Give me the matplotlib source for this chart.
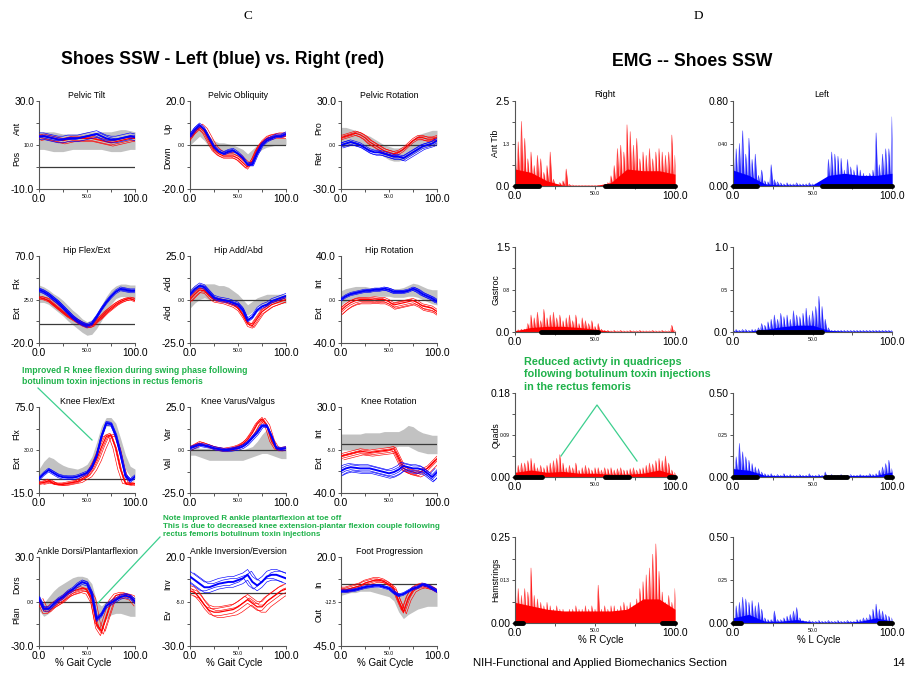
import numpy as np
import matplotlib
matplotlib.use("Agg")
import matplotlib.pyplot as plt
from matplotlib.lines import Line2D

W, H = 909, 673
plt.rcParams['font.family'] = ['Liberation Sans', 'DejaVu Sans']

RED, BLUE, BAND = '#ff0000', '#0000ff', '#c2c2c2'
GREEN_TXT, GREEN_LINE = '#1fb24a', '#3ccf8e'

# gait cycle samples (% of cycle)
pct = np.arange(0, 101, 5)

# ---------------- kinematics (deg), sampled every 5 % ----------------
tilt_lo = [8, 8, 7.5, 7, 7, 7, 7.5, 8, 8, 8, 8, 8, 8, 8, 7.5, 7, 7, 7, 7.5, 8, 8]
tilt_hi = [16, 16, 16, 16, 15.5, 15, 15, 15, 15, 15.5, 16, 16, 16, 16, 16, 16, 16.5, 17, 17, 16.5, 16]
tilt_left = [14, 14, 13.5, 13, 12.5, 12.5, 13, 13, 13, 13.5, 14, 14.5, 15, 14, 13, 12.5, 12.5, 13, 13.5, 14, 13.5]
tilt_right = [13.5, 14, 13.5, 13, 12.5, 12, 12.5, 13, 13, 13, 13, 13, 12.5, 12, 11.5, 11, 11.5, 12, 12.5, 13, 13]

obl_lo = [0, 2, 4, 2, -1, -3, -4, -4, -4, -4, -5, -6, -8, -6, -4, -2, -1, -0.5, 0, 0, 0]
obl_hi = [4, 7, 8, 7, 4, 2, 1, 1, 0.5, 0, -1, -2, -4, -2, 0, 2, 3, 3, 3, 3, 3]
obl_left = [4, 7, 9, 7, 3, -1, -3, -4, -3, -2.5, -4, -6, -9, -9, -4, 0, 2, 3, 4, 4, 5]
obl_right = [3, 6, 8, 6, 2, -2, -4, -5, -5, -5, -6, -8, -10, -7, -2, 1, 3, 3.5, 4, 4, 4]

prot_lo = [-1, -1, 0, 0, -1, -2, -3, -4, -6, -8, -10, -11, -11, -10, -8, -6, -4, -2, -1, 0, 0]
prot_hi = [12, 12, 11, 10, 9, 7, 6, 4, 2, 0, -1, -2, -2, -1, 1, 4, 7, 8, 9, 10, 10]
prot_left = [0, 1, 2, 1, 0, -2, -4, -5, -5, -6, -7, -8, -8, -9, -7, -5, -3, -1, 0, 1, 3]
prot_right = [5, 6, 7, 8, 7, 5, 2, 0, -2, -4, -5, -6, -5, -3, 0, 3, 5, 5, 4, 4, 5]

hfe_lo = [22, 22, 20, 16, 12, 8, 3, -1, -5, -9, -12, -11, -5, 3, 12, 20, 26, 28, 28, 26, 25]
hfe_hi = [40, 38, 35, 31, 28, 24, 19, 14, 10, 5, 2, 4, 10, 19, 28, 35, 39, 41, 41, 40, 40]
hfe_left = [35, 33, 30, 26, 22, 17, 12, 7, 3, 0, -2, 0, 7, 15, 22, 28, 33, 36, 35, 34, 34]
hfe_right = [27, 26, 24, 20, 16, 12, 8, 5, 2, -1, -3, -2, 3, 7, 12, 16, 20, 23, 25, 26, 24]

haa_lo = [-5, -2, 0, 1, 0, 0, 0, -1, -1, -2, -4, -7, -9, -7, -4, -3, -2, -2, -2, -2, -2]
haa_hi = [6, 8, 9, 9, 9, 9, 8, 8, 7, 5, 3, 0, -3, -1, 1, 2, 3, 3, 3, 3, 3]
haa_left = [3, 6, 8, 7, 4, 1, 0, -0.5, -1, -2, -3, -6, -12, -10, -6, -4, -3, -1, 0, 1, 2]
haa_right = [0, 3, 5.5, 5, 2, 0, -0.5, -1, -2, -3, -5, -9, -14, -15, -11, -7, -5, -3, -2, -1, 0]

hrot_lo = [-5, -2, 0, 1, 2, 2, 3, 3, 3, 3, 3, 2, 2, 2, 3, 3, 2, 0, -2, -4, -5]
hrot_hi = [8, 10, 11, 12, 12, 12, 11, 11, 11, 10, 10, 10, 10, 11, 13, 15, 14, 12, 10, 9, 9]
hrot_left = [0, 3, 5, 6, 7, 8, 8, 9, 9, 10, 9, 7, 7, 7, 8, 10, 8, 5, 3, 1, -2]
hrot_right = [-10, -6, -3, -1, 0, 0, 0, 0.5, 0, 0, -2, -5, -4, -3, -2, -1, -3, -6, -7, -8, -11]

kfe_lo = [0, 6, 10, 8, 5, 3, 2, 2, 2, 3, 5, 12, 25, 42, 55, 55, 45, 28, 10, 2, 0]
kfe_hi = [10, 18, 23, 21, 17, 14, 12, 11, 10, 12, 15, 23, 38, 55, 64, 64, 58, 42, 25, 13, 10]
kfe_left = [0, 5, 9, 6, 3, 1.5, 1, 1, 2, 4, 6, 12, 24, 44, 58, 57, 45, 25, 3, -2, 2]
kfe_right = [-5, -4, -2, -5, -6, -6, -5, -4, -3, 0, 3, 10, 20, 33, 44, 46, 32, 10, -5, -6, -5]

kvv_lo = [-3, -3, -4, -5, -6, -6, -6, -6, -6, -6, -6, -6, -5, -4, -3, -2, -2, -3, -4, -5, -5]
kvv_hi = [2, 2, 1, 1, 1, 0, 0, 0, 0, 0, 0, 0, 1, 2, 5, 9, 12, 6, 2, 2, 2]
kvv_left = [1, 2, 3, 2.5, 2, 1, 0.5, 0, 0, 0.5, 1, 2, 4, 7, 10, 14, 14, 8, 1, 0.5, 1]
kvv_right = [1, 2.5, 4, 3, 2, 1, 0.5, 0, 0.5, 1, 2, 3.5, 6, 10, 15, 18, 14, 5, 0.5, 0.5, 1]

krot_lo = [-5, -5, -5, -5, -4, -4, -4, -4, -3, -3, -3, -3, -2, -2, -2, -4, -6, -7, -8, -8, -8]
krot_hi = [8, 8, 8, 8, 8, 9, 9, 9, 9, 10, 10, 10, 10, 12, 15, 14, 11, 9, 8, 7, 7]
krot_left = [-22, -20, -19, -19.5, -20, -20, -20, -21, -22, -23, -24, -23, -21, -18, -19, -20, -20, -21, -24, -27, -23]
krot_right = [-10, -9, -8, -7, -6, -6.5, -7, -6.5, -6, -5.5, -5, -4, -12, -20, -22, -23, -24, -22, -20, -16, -12]

adp_lo = [-6, -10, -8, -4, 0, 3, 5, 7, 8, 9, 6, -2, -18, -18, -12, -9, -8, -8, -9, -10, -10]
adp_hi = [3, -1, 3, 7, 10, 12, 14, 16, 17, 17, 16, 12, 0, -3, 0, 2, 3, 4, 4, 4, 3]
adp_left = [2, -5, -5, -2, 1, 3, 6, 8, 11, 13, 12, 5, -12, -9, -3, -1, 1, 3, 4, 3, 0]
adp_right = [2, -5, -5, -2, 0, 2, 5, 7, 8, 9, 8, 2, -15, -20, -10, 0, 4, 5, 5, 4, 0]

aie_left = [9, 7, 5, 3, 3, 4, 5, 5.5, 6, 6, 7, 8, 10, 6, 4, 6, 9, 10, 10, 9, 8]
aie_right = [1, 0, -3, -7, -10, -11, -11, -10.5, -10, -9.5, -8, -6, -4, -6, -8, -8, -5, -3, -1, 1, 2]

fp_lo = [-8, -7, -6, -6, -5, -5, -5, -6, -7, -8, -9, -12, -20, -25, -22, -20, -18, -17, -16, -16, -16]
fp_hi = [-2, -2, -2, -1.5, -1, -1, -1.5, -2, -2.5, -3, -4, -5, -8, -7, -5, -3, -2, -2, -3, -4, -5]
fp_left = [-5, -5, -4.5, -4, -3, -2, -1.5, -1, -1, -2, -3, -6, -8, -7, -5, -3, -2, 0, -1, -3, -5]
fp_right = [-4, -4, -3, -2, -1, 1, 2, 3, 3, 2, 0, -3, -12, -20, -10, -4, -2, -1, -2, -3, -5]

# trial-to-trial spread: (shift in %, shift in deg)
tilt_lt = [(0, 1.5), (0, -1.5), (3, 0.5), (-3, -0.5)]
tilt_rt = [(0, 1), (0, -1), (2, -1.5), (-2, 0.5)]
obl_lt = [(0, 1), (1, -0.5), (-1, 0.5)]
obl_rt = [(0, 1), (0, -1), (2, 0.5), (-2, -0.5), (3, 1.5)]
prot_lt = [(0, 1.5), (0, -1.5), (2, -2), (-2, 1)]
prot_rt = [(0, 1.5), (0, -1.5), (2, 1), (-2, -1)]
hfe_lt = [(0, 2), (0, -2), (1, 1), (-1, -1)]
hfe_rt = [(0, 1.5), (0, -1.5), (2, -1), (3, 1), (-2, 0.5)]
haa_lt = [(0, 1.5), (0, -1), (1, 0.5)]
haa_rt = [(0, 1), (0, -1.5), (2, -1), (-1, 1)]
hrot_lt = [(0, 1.5), (0, -1.5), (2, 1), (-2, -1)]
hrot_rt = [(0, 2), (0, -2), (2, -3), (-2, 1), (1, -4)]
kfe_lt = [(0, 2), (0, -2), (1, 1)]
kfe_rt = [(-3, 0), (-1, 1.5), (1, -1), (3, 0.5), (5, -1)]
kvv_lt = [(0, 1), (1, -1), (-1, 0.5)]
kvv_rt = [(0, 1), (-2, 0), (2, -1), (3, 0.5)]
krot_lt = [(0, 2), (0, -2), (2, -3), (-2, 3), (1, -4)]
krot_rt = [(0, 2), (0, -2), (2, 1), (-2, -1), (3, -3)]
adp_lt = [(0, 1.5), (0, -1.5), (1, 1)]
adp_rt = [(-2, 1), (0, -1.5), (2, -2), (4, 0), (-1, -3)]
aie_lt = [(0, 3), (0, -3), (4, 2), (-4, -2)]
aie_rt = [(0, 3), (0, -2), (4, -3), (-3, 2), (2, 1)]
fp_lt = [(0, 1), (0, -1), (2, 0.5)]
fp_rt = [(-2, 1), (0, -1), (2, 0.5), (3, -1.5), (-1, 2)]

gait_titles = ['Pelvic Tilt', 'Pelvic Obliquity', 'Pelvic Rotation',
               'Hip Flex/Ext', 'Hip Add/Abd', 'Hip Rotation',
               'Knee Flex/Ext', 'Knee Varus/Valgus', 'Knee Rotation',
               'Ankle Dorsi/Plantarflexion', 'Ankle Inversion/Eversion', 'Foot Progression']
gait_ylims = [(-10, 30), (-20, 20), (-30, 30), (-20, 70), (-25, 25), (-40, 40),
              (-15, 75), (-25, 25), (-40, 30), (-30, 30), (-30, 20), (-45, 20)]
gait_dirs = [('Ant', 'Pos'), ('Up', 'Down'), ('Pro', 'Ret'), ('Flx', 'Ext'), ('Add', 'Abd'),
             ('Int', 'Ext'), ('Flx', 'Ext'), ('Var', 'Val'), ('Int', 'Ext'),
             ('Dors', 'Plan'), ('Inv', 'Ev'), ('In', 'Out')]

# ---------------- EMG (raw burst peaks every 2 %, solid floor every 10 %) ----------------
emg_pct = np.arange(0, 101, 2)
emg_floor_pct = np.arange(0, 101, 10)

at_r = [1.2, 1.3, 1.9, 1.4, 0.8, 1.0, 0.6, 0.9, 0.8, 0.4, 0.6, 1.0, 0.2, 0.05, 0.1, 0.15,
        0.5, 0.05, 0.03, 0.02, 0.02, 0.02, 0.02, 0.02, 0.02, 0.02, 0.02, 0.02, 0.02, 0.1,
        0.3, 0.6, 1.1, 1.2, 1.0, 1.8, 1.6, 1.2, 1.4, 0.8, 1.0, 0.9, 1.1, 0.8, 1.0, 1.1,
        1.0, 0.9, 1.0, 1.5, 0.9]
at_r_floor = [0.5, 0.4, 0.15, 0.02, 0.01, 0.01, 0.1, 0.5, 0.45, 0.45, 0.35]
at_l = [0.4, 0.35, 0.4, 0.52, 0.3, 0.45, 0.25, 0.3, 0.1, 0.15, 0.05, 0.04, 0.2, 0.06,
        0.04, 0.03, 0.02, 0.03, 0.02, 0.02, 0.03, 0.02, 0.02, 0.02, 0.03, 0.02, 0.02, 0.02,
        0.02, 0.05, 0.25, 0.32, 0.3, 0.28, 0.26, 0.15, 0.25, 0.18, 0.15, 0.2, 0.15, 0.12,
        0.1, 0.12, 0.15, 0.5, 0.2, 0.3, 0.35, 0.35, 0.65]
at_l_floor = [0.15, 0.1, 0.02, 0.01, 0.01, 0.01, 0.1, 0.12, 0.1, 0.1, 0.12]
ga_r = [0.05, 0.04, 0.05, 0.05, 0.15, 0.3, 0.25, 0.35, 0.2, 0.4, 0.25, 0.3, 0.35, 0.25,
        0.3, 0.2, 0.25, 0.3, 0.2, 0.3, 0.15, 0.25, 0.2, 0.15, 0.2, 0.1, 0.15, 0.05, 0.03,
        0.03, 0.02, 0.03, 0.02, 0.03, 0.02, 0.02, 0.03, 0.02, 0.02, 0.03, 0.02, 0.02, 0.02,
        0.03, 0.02, 0.02, 0.03, 0.02, 0.02, 0.12, 0.03]
ga_r_floor = [0.02, 0.08, 0.1, 0.1, 0.08, 0.05, 0.01, 0.01, 0.01, 0.01, 0.01]
ga_l = [0.03, 0.03, 0.02, 0.03, 0.03, 0.02, 0.03, 0.03, 0.05, 0.1, 0.08, 0.12, 0.15, 0.2,
        0.15, 0.22, 0.18, 0.2, 0.15, 0.25, 0.2, 0.18, 0.22, 0.28, 0.2, 0.25, 0.3, 0.42, 0.3,
        0.15, 0.05, 0.02, 0.02, 0.02, 0.02, 0.02, 0.02, 0.02, 0.02, 0.02, 0.02, 0.02, 0.02,
        0.02, 0.02, 0.02, 0.02, 0.02, 0.02, 0.02, 0.02]
ga_l_floor = [0.01, 0.01, 0.03, 0.06, 0.08, 0.08, 0.02, 0.01, 0.01, 0.01, 0.01]
qu_r = [0.02, 0.025, 0.03, 0.03, 0.035, 0.04, 0.03, 0.02, 0.025, 0.02, 0.025, 0.03, 0.035,
        0.04, 0.048, 0.03, 0.02, 0.025, 0.02, 0.03, 0.015, 0.02, 0.025, 0.02, 0.015, 0.02,
        0.02, 0.015, 0.02, 0.018, 0.02, 0.015, 0.018, 0.02, 0.015, 0.015, 0.018, 0.02,
        0.015, 0.018, 0.02, 0.025, 0.03, 0.028, 0.035, 0.04, 0.035, 0.045, 0.03, 0.015, 0.01]
qu_r_floor = [0.01, 0.015, 0.01, 0.012, 0.008, 0.008, 0.006, 0.006, 0.008, 0.015, 0.005]
qu_l = [0.1, 0.12, 0.2, 0.15, 0.12, 0.1, 0.08, 0.06, 0.05, 0.03, 0.02, 0.015, 0.02, 0.01,
        0.015, 0.01, 0.02, 0.01, 0.015, 0.01, 0.01, 0.015, 0.01, 0.01, 0.02, 0.01, 0.01,
        0.015, 0.01, 0.03, 0.01, 0.015, 0.01, 0.01, 0.015, 0.01, 0.01, 0.015, 0.01, 0.01,
        0.015, 0.01, 0.01, 0.02, 0.015, 0.02, 0.04, 0.06, 0.08, 0.1, 0.05]
qu_l_floor = [0.05, 0.04, 0.01, 0.008, 0.008, 0.008, 0.008, 0.008, 0.01, 0.01, 0.03]
ha_r = [0.12, 0.1, 0.08, 0.1, 0.09, 0.16, 0.08, 0.07, 0.06, 0.05, 0.06, 0.05, 0.04, 0.05,
        0.04, 0.04, 0.03, 0.04, 0.04, 0.05, 0.04, 0.04, 0.05, 0.04, 0.05, 0.04, 0.11, 0.04,
        0.05, 0.04, 0.05, 0.05, 0.04, 0.05, 0.06, 0.05, 0.06, 0.05, 0.07, 0.1, 0.12, 0.14,
        0.16, 0.2, 0.23, 0.15, 0.09, 0.06, 0.08, 0.06, 0.1]
ha_r_floor = [0.06, 0.05, 0.04, 0.035, 0.035, 0.035, 0.035, 0.04, 0.07, 0.07, 0.04]
ha_l = [0.05, 0.1, 0.12, 0.15, 0.14, 0.12, 0.13, 0.1, 0.12, 0.08, 0.03, 0.02, 0.02, 0.07,
        0.02, 0.02, 0.03, 0.04, 0.05, 0.07, 0.09, 0.03, 0.015, 0.01, 0.015, 0.01, 0.01,
        0.015, 0.01, 0.01, 0.015, 0.01, 0.01, 0.015, 0.01, 0.01, 0.015, 0.01, 0.01, 0.02,
        0.02, 0.03, 0.03, 0.05, 0.08, 0.11, 0.08, 0.07, 0.05, 0.04, 0.03]
ha_l_floor = [0.03, 0.05, 0.01, 0.01, 0.02, 0.005, 0.005, 0.005, 0.01, 0.03, 0.01]

emg_muscles = ['Ant Tib', 'Gastroc', 'Quads', 'Hamstrings']
emg_tops = [(2.5, 0.80), (1.5, 1.0), (0.18, 0.50), (0.25, 0.50)]
emg_ticktext = [(('0.0', '1.3', '2.5'), ('0.00', '0.40', '0.80')),
                (('0.0', '0.8', '1.5'), ('0.0', '0.5', '1.0')),
                (('0.00', '0.09', '0.18'), ('0.00', '0.25', '0.50')),
                (('0.00', '0.13', '0.25'), ('0.00', '0.25', '0.50'))]
# foot contact bars (% cycle)
emg_contact = [([(0, 15), (56, 100)], [(0, 15), (56, 100)]),
               ([(16, 52)], [(16, 56)]),
               ([(0, 17), (56, 71), (96, 100)], [(0, 15), (58, 72), (96, 100)]),
               ([(0, 5), (92, 100)], [(0, 5), (92, 100)])]

# ---------------- layout ----------------
fig = plt.figure(figsize=(W / 100, H / 100), dpi=100)


def px_axes(x0, y0, x1, y1):
    return fig.add_axes([x0 / W, 1 - y1 / H, (x1 - x0) / W, (y1 - y0) / H])


def ftext(x, y, s, **kw):
    return fig.text(x / W, 1 - y / H, s, **kw)


def style(ax, ylim, yt_text):
    ax.set_xlim(0, 100)
    ax.set_ylim(*ylim)
    for s in ['top', 'right']:
        ax.spines[s].set_visible(False)
    for s in ['left', 'bottom']:
        ax.spines[s].set_color('#555555')
        ax.spines[s].set_linewidth(0.8)
    ax.set_xticks([0, 25, 50, 75, 100])
    ax.set_xticklabels(['0.0', '', '50.0', '', '100.0'])
    ax.set_yticks(np.linspace(ylim[0], ylim[1], 5))
    ax.set_yticklabels([yt_text[0], '', yt_text[1], '', yt_text[2]])
    ax.tick_params(length=2.5, width=0.7, color='#555555', pad=1, labelsize=7.4)
    ax.get_xticklabels()[2].set_fontsize(3.7)
    ax.get_yticklabels()[2].set_fontsize(3.7)


gait_cols = [(39, 135), (190, 286), (341, 437)]
gait_rows = [(101, 189), (256, 343), (407, 493), (557, 646)]

bands = [(tilt_lo, tilt_hi), (obl_lo, obl_hi), (prot_lo, prot_hi), (hfe_lo, hfe_hi),
         (haa_lo, haa_hi), (hrot_lo, hrot_hi), (kfe_lo, kfe_hi), (kvv_lo, kvv_hi),
         (krot_lo, krot_hi), (adp_lo, adp_hi), None, (fp_lo, fp_hi)]
lefts = [tilt_left, obl_left, prot_left, hfe_left, haa_left, hrot_left,
         kfe_left, kvv_left, krot_left, adp_left, aie_left, fp_left]
rights = [tilt_right, obl_right, prot_right, hfe_right, haa_right, hrot_right,
          kfe_right, kvv_right, krot_right, adp_right, aie_right, fp_right]
left_trials = [tilt_lt, obl_lt, prot_lt, hfe_lt, haa_lt, hrot_lt,
               kfe_lt, kvv_lt, krot_lt, adp_lt, aie_lt, fp_lt]
right_trials = [tilt_rt, obl_rt, prot_rt, hfe_rt, haa_rt, hrot_rt,
                kfe_rt, kvv_rt, krot_rt, adp_rt, aie_rt, fp_rt]

for i, title in enumerate(gait_titles):
    r, c = divmod(i, 3)
    x0, x1 = gait_cols[c]
    y0, y1 = gait_rows[r]
    ax = px_axes(x0, y0, x1, y1)
    lo, hi = gait_ylims[i]
    mid = (lo + hi) / 2
    style(ax, (lo, hi), (f'{lo:.1f}', f'{mid:.1f}', f'{hi:.1f}'))
    if bands[i] is not None:
        ax.fill_between(pct, bands[i][0], bands[i][1], color=BAND, lw=0, zorder=1)
    ax.axhline(0, color='#3a3a3a', lw=0.9, zorder=2)
    for dx, dy in right_trials[i]:
        ax.plot(pct + dx, np.array(rights[i]) + dy, color=RED, lw=0.45, zorder=3)
    ax.plot(pct, rights[i], color=RED, lw=0.9, zorder=3)
    for dx, dy in left_trials[i]:
        ax.plot(pct + dx, np.array(lefts[i]) + dy, color=BLUE, lw=0.45, zorder=4)
    ax.plot(pct, lefts[i], color=BLUE, lw=1.4, zorder=4)
    ax.set_title(title, fontsize=6.3, pad=2)
    w = x1 - x0
    up, down = gait_dirs[i]
    ax.text(-22 / w, 0.69, up, rotation=90, fontsize=6.3, ha='center', va='center',
            transform=ax.transAxes)
    ax.text(-22 / w, 0.35, down, rotation=90, fontsize=6.3, ha='center', va='center',
            transform=ax.transAxes)
    if r == 3:
        ftext((x0 + x1) / 2 - 4, 663, '% Gait Cycle', fontsize=7, ha='center', va='center')

# EMG panels
emg_cols = [(515, 675), (733, 892)]
emg_rows = [(101, 186), (247, 332), (393, 477), (537, 623)]
emg_data = [((at_r, at_r_floor), (at_l, at_l_floor)),
            ((ga_r, ga_r_floor), (ga_l, ga_l_floor)),
            ((qu_r, qu_r_floor), (qu_l, qu_l_floor)),
            ((ha_r, ha_r_floor), (ha_l, ha_l_floor))]

for r, muscle in enumerate(emg_muscles):
    for c, color in enumerate([RED, BLUE]):
        x0, x1 = emg_cols[c]
        y0, y1 = emg_rows[r]
        ax = px_axes(x0, y0, x1, y1)
        top = emg_tops[r][c]
        style(ax, (0, top), emg_ticktext[r][c])
        peaks, floor = emg_data[r][c]
        # each burst peak drawn as a narrow spike that falls back to zero halfway
        spike_x = np.column_stack([emg_pct, emg_pct + 1]).ravel()[:-1]
        spike_y = np.column_stack([peaks, np.zeros(len(peaks))]).ravel()[:-1]
        ax.fill_between(spike_x, 0, spike_y, color=color, alpha=0.8, lw=0, zorder=2)
        ax.plot(spike_x, spike_y, color=color, lw=0.4, alpha=0.7, zorder=2)
        ax.fill_between(emg_floor_pct, 0, floor, color=color, lw=0, zorder=2)
        for a, b in emg_contact[r][c]:
            ax.plot([a, b], [0, 0], color='black', lw=3.5, solid_capstyle='round',
                    clip_on=False, zorder=5)
        if c == 0:
            ax.text(-19 / (x1 - x0), 0.5, muscle, rotation=90, fontsize=6.3,
                    ha='center', va='center', transform=ax.transAxes)
        if r == 0:
            ax.set_title(['Right', 'Left'][c], fontsize=6.5, pad=3, x=0.56)
        if r == 3:
            ftext((x0 + x1) / 2 + 6, 640, ['% R Cycle', '% L Cycle'][c], fontsize=7,
                  ha='center', va='center')

# headings and notes
ftext(248, 16, 'C', family='Liberation Serif', fontsize=9.5, ha='center', va='center')
ftext(698, 16, 'D', family='Liberation Serif', fontsize=9.5, ha='center', va='center')
ftext(223, 60, 'Shoes SSW - Left (blue) vs. Right (red)', fontsize=12.7, weight='bold',
      ha='center', va='center')
ftext(692, 61, 'EMG -- Shoes SSW', fontsize=12.7, weight='bold', ha='center', va='center')

ftext(22, 366, 'Improved R knee flexion during swing phase following\n'
      'botulinum toxin injections in rectus femoris', fontsize=6.2, weight='bold',
      color=GREEN_TXT, ha='left', va='top', linespacing=1.25)
ftext(163, 515, 'Note improved R ankle plantarflexion at toe off\n'
      'This is due to decreased knee extension-plantar flexion couple following\n'
      'rectus femoris botulinum toxin injections', fontsize=5.8, weight='bold',
      color=GREEN_TXT, ha='left', va='top', linespacing=1.15)
ftext(524, 357, 'Reduced activty in quadriceps\nfollowing botulinum toxin injections\n'
      'in the rectus femoris', fontsize=7.8, weight='bold', color=GREEN_TXT,
      ha='left', va='top', linespacing=1.3)

for xs, ys in [((38, 92), (388, 440)), ((98, 160), (603, 537)),
               ((561, 597, 637), (456, 405, 461))]:
    fig.add_artist(Line2D([x / W for x in xs], [1 - y / H for y in ys],
                          color=GREEN_LINE, lw=0.9, transform=fig.transFigure))

ftext(473, 663, 'NIH-Functional and Applied Biomechanics Section', fontsize=8.2,
      ha='left', va='center')
ftext(905, 663, '14', fontsize=8.2, ha='right', va='center')

fig.savefig('out.png', dpi=100)
